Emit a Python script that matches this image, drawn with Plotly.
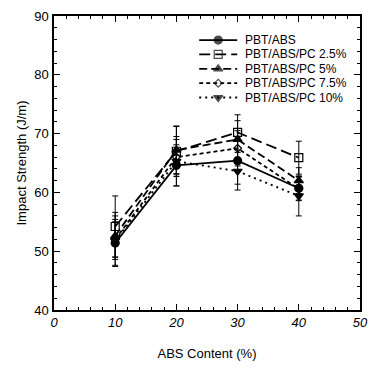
import plotly.graph_objects as go

x = [10, 20, 30, 40]
names = ["PBT/ABS", "PBT/ABS/PC 2.5%", "PBT/ABS/PC 5%", "PBT/ABS/PC 7.5%", "PBT/ABS/PC 10%"]
pbt_abs = [51.4, 64.6, 65.4, 60.7]
pc25 = [54.2, 67.0, 70.2, 65.9]
pc5 = [52.6, 67.2, 69.0, 62.0]
pc75 = [52.0, 66.0, 67.5, 60.6]
pc10 = [51.8, 65.3, 63.6, 59.4]
err_abs = [4.0, 3.5, 4.0, 2.0]
err_25 = [5.2, 4.3, 3.0, 2.8]
err_5 = [4.0, 4.0, 3.2, 2.2]
err_75 = [3.0, 3.0, 3.0, 2.0]
err_10 = [4.2, 4.2, 3.2, 3.4]

series = [pbt_abs, pc25, pc5, pc75, pc10]
errs = [err_abs, err_25, err_5, err_75, err_10]
symbols = ["circle", "square-open", "triangle-up", "diamond-open", "triangle-down"]
dashes = ["solid", "11px,5px", "8px,4px", "4px,3px", "2px,4px"]
sizes = [8, 8, 8, 6, 8]

W, H = 377, 368
ML, MR, MT, MB = 54, 9, 14, 55
PW, PH = W - ML - MR, H - MT - MB

def px_x(p):
    return (p - ML) / PW

def px_y(p):
    return 1 - (p - MT) / PH

fig = go.Figure()
for n, y, e, s, d, sz in zip(names, series, errs, symbols, dashes, sizes):
    fig.add_trace(go.Scatter(
        x=x, y=y, name=n, mode="lines+markers", showlegend=False,
        line=dict(color="black", width=1.8, dash=d),
        marker=dict(symbol=s, size=sz, color="black", line=dict(color="black", width=1.2)),
        error_y=dict(type="data", array=e, color="black", thickness=1, width=3),
    ))

# custom compact legend on an overlay axis in paper-like units
leg_x0, leg_x1, leg_xt = 203, 242, 248
leg_y0, leg_dy = 38.5, 14.6
for i, (n, s, d, sz) in enumerate(zip(names, symbols, dashes, sizes)):
    yy = px_y(leg_y0 + i * leg_dy)
    fig.add_trace(go.Scatter(
        x=[px_x(leg_x0), px_x((leg_x0 + leg_x1) / 2), px_x(leg_x1)], y=[yy, yy, yy],
        xaxis="x2", yaxis="y2", mode="lines+markers", showlegend=False, hoverinfo="skip",
        line=dict(color="black", width=1.8, dash=d),
        marker=dict(symbol=s, size=[0, sz, 0], color="black", line=dict(color="black", width=1.2)),
    ))
    fig.add_annotation(x=px_x(leg_xt), y=yy, xref="paper", yref="paper", text=n, showarrow=False,
                       xanchor="left", yanchor="middle",
                       font=dict(family="Liberation Sans", size=12, color="black"))

axis_common = dict(
    showline=True, linecolor="black", linewidth=1.5, mirror="ticks",
    ticks="inside", ticklen=6, tickcolor="black", tickwidth=1,
    showgrid=False, zeroline=False,
    minor=dict(ticks="inside", ticklen=3, tickcolor="black", dtick=2, showgrid=False),
)

fig.update_xaxes(range=[0, 50], dtick=10, tickfont=dict(family="Liberation Sans", size=13, color="black", style="italic"),
                 title=dict(text="ABS Content (%)", font=dict(family="Liberation Sans", size=13, color="black"), standoff=20),
                 **axis_common)
fig.update_yaxes(range=[40, 90], dtick=10, tickfont=dict(family="Liberation Sans", size=13, color="black"),
                 title=dict(text="Impact Strength (J/m)", font=dict(family="Liberation Sans", size=13, color="black"), standoff=5),
                 ticklabelstandoff=1,
                 **axis_common)

fig.update_layout(
    width=W, height=H,
    margin=dict(l=ML, r=MR, t=MT, b=MB),
    plot_bgcolor="white", paper_bgcolor="white",
    xaxis2=dict(overlaying="x", range=[0, 1], visible=False, fixedrange=True),
    yaxis2=dict(overlaying="y", range=[0, 1], visible=False, fixedrange=True),
    showlegend=False,
)

fig.write_html("out.html")
